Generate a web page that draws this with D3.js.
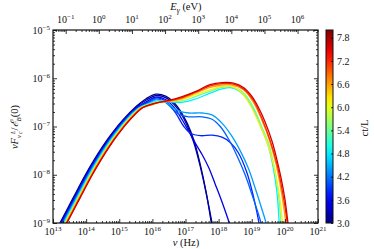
<!DOCTYPE html>
<html>
<head>
<meta charset="utf-8">
<script src="https://cdn.jsdelivr.net/npm/d3@7"></script>
<style>
  body { margin: 0; background: #fff; }
  svg { display: block; }
  .tick line { stroke: #000; stroke-width: 0.8; }
</style>
</head>
<body>
<div id="chart"></div>
<script>
"use strict";

// ct/L of each spectrum and its points [log10 nu (Hz), log10 nuF_nu L/c / E_B(0)]
var ctL = [3.0, 3.2, 3.5, 3.8, 4.1, 4.4, 4.8, 5.4, 6.2, 6.6, 7.2, 7.6];

var sed30 = [[13.06,-9.2],[13.21,-9.0],[13.6,-8.49],[13.97,-8.01],[14.25,-7.68],[14.5,-7.41],[14.75,-7.17],[15.0,-6.95],[15.25,-6.76],[15.5,-6.59],[15.8,-6.43],[16.1,-6.33],[16.4,-6.37],[16.65,-6.5],[16.85,-6.68],[17.05,-6.93],[17.25,-7.28],[17.45,-7.8],[17.62,-8.35],[17.78,-9.0],[17.86,-9.35]];
var sed32 = [[13.08,-9.2],[13.23,-9.0],[13.62,-8.49],[13.99,-8.01],[14.27,-7.68],[14.52,-7.41],[14.77,-7.17],[15.02,-6.95],[15.27,-6.76],[15.52,-6.59],[15.82,-6.45],[16.1,-6.36],[16.4,-6.4],[16.65,-6.54],[16.85,-6.72],[17.05,-6.98],[17.25,-7.33],[17.45,-7.84],[17.63,-8.4],[17.8,-9.0],[17.88,-9.35]];
var sed35 = [[13.1,-9.2],[13.25,-9.0],[13.64,-8.49],[14.01,-8.01],[14.29,-7.68],[14.54,-7.41],[14.79,-7.17],[15.04,-6.95],[15.29,-6.76],[15.54,-6.6],[15.84,-6.48],[16.1,-6.39],[16.4,-6.44],[16.65,-6.6],[16.9,-6.86],[17.1,-7.1],[17.3,-7.35],[17.5,-7.58],[17.7,-7.85],[17.9,-8.2],[18.1,-8.56],[18.32,-9.0],[18.42,-9.25]];
var sed38 = [[13.12,-9.2],[13.27,-9.0],[13.66,-8.49],[14.03,-8.01],[14.31,-7.68],[14.56,-7.41],[14.81,-7.17],[15.06,-6.95],[15.31,-6.76],[15.56,-6.6],[15.86,-6.5],[16.1,-6.41],[16.4,-6.47],[16.7,-6.72],[16.95,-7.0],[17.15,-7.14],[17.45,-7.19],[17.8,-7.18],[18.1,-7.22],[18.35,-7.33],[18.6,-7.55],[18.85,-7.95],[19.05,-8.45],[19.22,-9.0],[19.3,-9.3]];
var sed41 = [[13.14,-9.2],[13.29,-9.0],[13.68,-8.49],[14.05,-8.01],[14.33,-7.68],[14.58,-7.41],[14.83,-7.17],[15.08,-6.95],[15.33,-6.76],[15.58,-6.61],[15.88,-6.51],[16.1,-6.43],[16.4,-6.5],[16.65,-6.66],[16.85,-6.76],[17.1,-6.8],[17.5,-6.8],[17.8,-6.85],[18.05,-7.0],[18.3,-7.26],[18.55,-7.6],[18.8,-8.0],[19.05,-8.5],[19.28,-9.0],[19.36,-9.3]];
var sed44 = [[13.16,-9.2],[13.31,-9.0],[13.7,-8.49],[14.07,-8.01],[14.35,-7.68],[14.6,-7.41],[14.85,-7.17],[15.1,-6.95],[15.35,-6.76],[15.6,-6.61],[15.9,-6.52],[16.1,-6.45],[16.4,-6.5],[16.65,-6.62],[16.85,-6.69],[17.1,-6.72],[17.5,-6.72],[17.8,-6.76],[18.1,-6.93],[18.4,-7.2],[18.65,-7.5],[18.9,-7.87],[19.1,-8.27],[19.3,-8.7],[19.43,-9.0],[19.5,-9.3]];
var sed48 = [[13.18,-9.2],[13.33,-9.0],[13.72,-8.49],[14.09,-8.01],[14.37,-7.68],[14.62,-7.41],[14.87,-7.17],[15.12,-6.95],[15.37,-6.76],[15.62,-6.61],[15.92,-6.52],[16.2,-6.47],[16.5,-6.49],[16.9,-6.5],[17.3,-6.43],[17.74,-6.31],[18.1,-6.22],[18.4,-6.2],[18.75,-6.34],[19.04,-6.64],[19.3,-7.05],[19.49,-7.38],[19.62,-7.75],[19.72,-8.15],[19.78,-8.5],[19.83,-9.0],[19.87,-9.3]];
var sed54 = [[13.2,-9.2],[13.35,-9.0],[13.74,-8.49],[14.11,-8.01],[14.39,-7.68],[14.64,-7.41],[14.89,-7.17],[15.14,-6.95],[15.39,-6.76],[15.64,-6.61],[15.94,-6.53],[16.2,-6.48],[16.5,-6.48],[16.9,-6.47],[17.3,-6.38],[17.74,-6.27],[18.1,-6.19],[18.4,-6.18],[18.75,-6.3],[19.05,-6.6],[19.3,-7.0],[19.52,-7.38],[19.66,-7.78],[19.76,-8.18],[19.83,-8.55],[19.88,-9.0],[19.92,-9.3]];
var sed62 = [[13.22,-9.2],[13.37,-9.0],[13.76,-8.49],[14.13,-8.01],[14.41,-7.68],[14.66,-7.41],[14.91,-7.17],[15.16,-6.95],[15.41,-6.76],[15.66,-6.61],[15.96,-6.54],[16.2,-6.49],[16.5,-6.48],[16.9,-6.44],[17.3,-6.34],[17.74,-6.24],[18.1,-6.17],[18.4,-6.17],[18.7,-6.3],[18.95,-6.55],[19.2,-6.9],[19.45,-7.3],[19.64,-7.75],[19.78,-8.2],[19.87,-8.6],[19.93,-9.0],[19.97,-9.3]];
var sed66 = [[13.24,-9.2],[13.39,-9.0],[13.78,-8.49],[14.15,-8.01],[14.43,-7.68],[14.68,-7.41],[14.93,-7.17],[15.18,-6.95],[15.43,-6.76],[15.68,-6.61],[15.98,-6.55],[16.2,-6.5],[16.5,-6.48],[16.9,-6.42],[17.3,-6.31],[17.74,-6.19],[18.1,-6.14],[18.4,-6.14],[18.75,-6.24],[19.05,-6.5],[19.3,-6.86],[19.55,-7.32],[19.74,-7.8],[19.88,-8.3],[19.97,-8.7],[20.03,-9.0],[20.08,-9.3]];
var sed72 = [[13.26,-9.2],[13.41,-9.0],[13.8,-8.49],[14.17,-8.01],[14.45,-7.68],[14.7,-7.41],[14.95,-7.17],[15.2,-6.95],[15.45,-6.76],[15.7,-6.61],[16.0,-6.54],[16.2,-6.5],[16.5,-6.47],[16.9,-6.4],[17.3,-6.29],[17.74,-6.16],[18.1,-6.11],[18.45,-6.12],[18.75,-6.22],[19.05,-6.46],[19.3,-6.82],[19.55,-7.28],[19.76,-7.78],[19.9,-8.25],[20.0,-8.65],[20.07,-9.0],[20.12,-9.3]];
var sed76 = [[13.27,-9.2],[13.42,-9.0],[13.81,-8.49],[14.18,-8.01],[14.46,-7.68],[14.71,-7.41],[14.96,-7.17],[15.21,-6.95],[15.46,-6.76],[15.71,-6.61],[16.0,-6.53],[16.2,-6.5],[16.5,-6.46],[16.9,-6.38],[17.35,-6.26],[17.74,-6.13],[18.1,-6.09],[18.45,-6.1],[18.75,-6.19],[19.0,-6.37],[19.2,-6.6],[19.4,-6.9],[19.61,-7.3],[19.75,-7.66],[19.88,-8.05],[20.0,-8.5],[20.09,-8.98],[20.15,-9.3]];

var seds = [sed30, sed32, sed35, sed38, sed41, sed44, sed48, sed54, sed62, sed66, sed72, sed76];

// axis ticks
var nuExp = [13, 14, 15, 16, 17, 18, 19, 20, 21];
var fluxExp = [-9, -8, -7, -6, -5];
var energyExp = [-1, 0, 1, 2, 3, 4, 5, 6];
var cbTicks = [3.0, 3.6, 4.2, 4.8, 5.4, 6.0, 6.6, 7.2, 7.8];
var cbRange = [3.0, 8.0];

var hPlanck = 4.135667e-15; // eV s

var W = 374, H = 249;
var serif = "'Liberation Serif', 'DejaVu Serif', serif";
var plot = {left: 53, right: 318, top: 30, bottom: 223};

var svg = d3.select("#chart").append("svg")
    .attr("width", W).attr("height", H)
    .style("font-family", serif);

var x = d3.scaleLog().domain([1e13, 1e21]).range([plot.left, plot.right]);
var xE = d3.scaleLog().domain([1e13 * hPlanck, 1e21 * hPlanck]).range([plot.left, plot.right]);
var y = d3.scaleLog().domain([1e-9, 1e-5]).range([plot.bottom, plot.top]);
var cbY = d3.scaleLinear().domain(cbRange).range([plot.bottom, plot.top]);

var jet = function(v) {
    var t = (v - cbRange[0]) / (cbRange[1] - cbRange[0]);
    var c = function(a) { return Math.max(0, Math.min(1, 1.5 - Math.abs(4 * t - a))) * 255; };
    return d3.rgb(c(3), c(2), c(1)).formatHex();
};

var minorsOf = function(lo, hi) {
    var out = [];
    for (var k = Math.floor(Math.log10(lo)); k <= Math.ceil(Math.log10(hi)); k++) {
        for (var m = 2; m <= 9; m++) {
            var v = m * Math.pow(10, k);
            if (v > lo && v < hi) out.push(v);
        }
    }
    return out;
};

var pow10 = function(e) { return Math.pow(10, e); };

// curves
svg.append("clipPath").attr("id", "clip").append("rect")
    .attr("x", plot.left).attr("y", plot.top)
    .attr("width", plot.right - plot.left).attr("height", plot.bottom - plot.top);

var line = d3.line()
    .x(function(d) { return x(pow10(d[0])); })
    .y(function(d) { return y(pow10(d[1])); })
    .curve(d3.curveCatmullRom.alpha(0.5));

svg.append("g").attr("clip-path", "url(#clip)")
    .selectAll("path").data(seds).join("path")
    .attr("d", line)
    .attr("fill", "none")
    .attr("stroke", function(d, i) { return jet(ctL[i]); })
    .attr("stroke-width", 1.3);

// ticks, all pointing inward
var addAxis = function(axis, tx, ty) {
    var g = svg.append("g").attr("transform", "translate(" + tx + "," + ty + ")").call(axis);
    g.select(".domain").remove();
    g.selectAll("text").remove();
    return g;
};

addAxis(d3.axisBottom(x).tickValues(nuExp.map(pow10)).tickSizeInner(-4).tickSizeOuter(0), 0, plot.bottom);
addAxis(d3.axisBottom(x).tickValues(minorsOf(1e13, 1e21)).tickSizeInner(-2).tickSizeOuter(0), 0, plot.bottom);
addAxis(d3.axisTop(xE).tickValues(energyExp.map(pow10)).tickSizeInner(-4).tickSizeOuter(0), 0, plot.top);
addAxis(d3.axisTop(xE).tickValues(minorsOf(1e13 * hPlanck, 1e21 * hPlanck)).tickSizeInner(-2).tickSizeOuter(0), 0, plot.top);
addAxis(d3.axisLeft(y).tickValues(fluxExp.map(pow10)).tickSizeInner(-4).tickSizeOuter(0), plot.left, 0);
addAxis(d3.axisLeft(y).tickValues(minorsOf(1e-9, 1e-5)).tickSizeInner(-2).tickSizeOuter(0), plot.left, 0);
addAxis(d3.axisRight(y).tickValues(fluxExp.map(pow10)).tickSizeInner(-4).tickSizeOuter(0), plot.right, 0);
addAxis(d3.axisRight(y).tickValues(minorsOf(1e-9, 1e-5)).tickSizeInner(-2).tickSizeOuter(0), plot.right, 0);

svg.append("rect")
    .attr("x", plot.left).attr("y", plot.top)
    .attr("width", plot.right - plot.left).attr("height", plot.bottom - plot.top)
    .attr("fill", "none").attr("stroke", "#111").attr("stroke-width", 1.2);

// 10^n labels
var powerLabel = function(g, px, py, anchor, e) {
    var t = g.append("text").attr("x", px).attr("y", py)
        .attr("text-anchor", anchor).style("font-size", "10px").attr("fill", "#111");
    t.append("tspan").text("10");
    t.append("tspan").attr("dy", -4).style("font-size", "7px")
        .text(e < 0 ? "\u2212" + (-e) : String(e));
};

var labels = svg.append("g");
nuExp.forEach(function(e) { powerLabel(labels, x(pow10(e)), 235, "middle", e); });
energyExp.forEach(function(e) { powerLabel(labels, xE(pow10(e)), 23, "middle", e); });
fluxExp.forEach(function(e) { powerLabel(labels, plot.left - 3, y(pow10(e)) + 3.5, "end", e); });

// axis titles
var xt = svg.append("text").attr("x", 186).attr("y", 246)
    .attr("text-anchor", "middle").style("font-size", "10.5px").attr("fill", "#111");
xt.append("tspan").style("font-style", "italic").text("\u03bd");
xt.append("tspan").text(" (Hz)");

var et = svg.append("text").attr("x", 186).attr("y", 10)
    .attr("text-anchor", "middle").style("font-size", "10.5px").attr("fill", "#111");
et.append("tspan").style("font-style", "italic").text("E");
et.append("tspan").attr("dy", 2.5).style("font-size", "7.5px").style("font-style", "italic").text("\u03b3");
et.append("tspan").attr("dy", -2.5).text(" (eV)");

var yt = svg.append("text").attr("transform", "translate(18,127) rotate(-90)")
    .attr("text-anchor", "middle").style("font-size", "10.5px").attr("fill", "#111");
yt.append("tspan").style("font-style", "italic").text("\u03bdF");
yt.append("tspan").attr("dy", 2.5).style("font-size", "7px").style("font-style", "italic").text("\u03bd");
yt.append("tspan").attr("dy", -6).attr("dx", 1).style("font-size", "6px").style("font-style", "italic").text("L");
yt.append("tspan").attr("dy", 7).attr("dx", -3.5).style("font-size", "6px").style("font-style", "italic").text("c");
yt.append("tspan").attr("dy", -3.5).attr("dx", 1).text("/");
yt.append("tspan").style("font-style", "italic").text("\u2130");
yt.append("tspan").attr("dy", 2.5).style("font-size", "7px").style("font-style", "italic").text("B");
yt.append("tspan").attr("dy", -2.5).text("(0)");

// colour bar
var cb = {left: 326, width: 7};
var grad = svg.append("defs").append("linearGradient").attr("id", "jet")
    .attr("x1", 0).attr("y1", 1).attr("x2", 0).attr("y2", 0);
d3.range(0, 1.0001, 0.05).forEach(function(t) {
    grad.append("stop").attr("offset", t)
        .attr("stop-color", jet(cbRange[0] + t * (cbRange[1] - cbRange[0])));
});
svg.append("rect")
    .attr("x", cb.left).attr("y", plot.top)
    .attr("width", cb.width).attr("height", plot.bottom - plot.top)
    .attr("fill", "url(#jet)").attr("stroke", "#111").attr("stroke-width", 1);

var cbAxis = svg.append("g").attr("transform", "translate(" + (cb.left + cb.width) + ",0)")
    .call(d3.axisRight(cbY).tickValues(cbTicks).tickSizeInner(-2).tickSizeOuter(0)
        .tickPadding(4).tickFormat(d3.format(".1f")));
cbAxis.select(".domain").remove();
cbAxis.selectAll("text").style("font-family", serif).style("font-size", "10px").attr("fill", "#111");

svg.append("text").attr("transform", "translate(368,128) rotate(-90)")
    .attr("text-anchor", "middle").style("font-size", "10.5px").attr("fill", "#111")
    .text("ct/L");
</script>
</body>
</html>
